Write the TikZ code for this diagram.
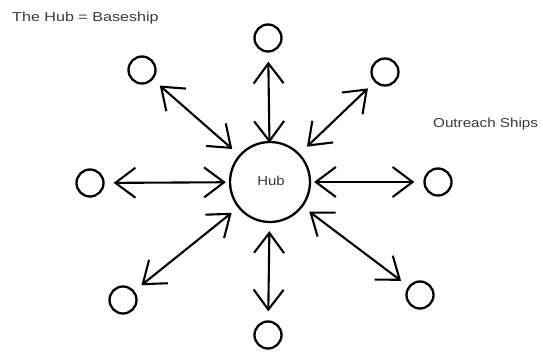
\documentclass[tikz,border=0pt]{standalone}
\usepackage{fontspec}
\setmainfont{Liberation Sans}
\usetikzlibrary{arrows.meta}
\definecolor{txt}{HTML}{3A3A3A}
\begin{document}
\begin{tikzpicture}[x=1pt,y=-1pt,
  hubnode/.style={circle,draw,line width=2.3pt,minimum size=80pt,inner sep=0pt},
  ship/.style={circle,draw,line width=2.3pt,minimum size=27pt,inner sep=0pt},
  link/.style={line width=2.1pt,{Straight Barb[length=20pt,width=30pt]}-{Straight Barb[length=20pt,width=30pt]}},
  lbl/.style={text=txt,font=\fontsize{13}{15}\selectfont,inner sep=0pt}]
\useasboundingbox (0,0) rectangle (543,356);
\node[hubnode] (hub) at (270,182) {};
\node[lbl,anchor=base] (hubtxt) at (271,185) {\scalebox{1.15}[1]{Hub}};
\node[ship] (o1) at (268,38) {};
\node[ship] (o2) at (385,72) {};
\node[ship] (o3) at (438,182) {};
\node[ship] (o4) at (420,295) {};
\node[ship] (o5) at (268,335) {};
\node[ship] (o6) at (123,300) {};
\node[ship] (o7) at (90,183) {};
\node[ship] (o8) at (142,70) {};
\draw[link,shorten <=-2pt,shorten >=9pt] (hub) -- (o1);
\draw[link,shorten <=10pt,shorten >=9pt] (hub) -- (o2);
\draw[link,shorten <=3pt,shorten >=9pt] (hub) -- (o3);
\draw[link,shorten <=8pt,shorten >=9pt] (hub) -- (o4);
\draw[link,shorten <=8pt,shorten >=9pt] (hub) -- (o5);
\draw[link,shorten <=8pt,shorten >=9pt] (hub) -- (o6);
\draw[link,shorten <=3pt,shorten >=9pt] (hub) -- (o7);
\draw[link,shorten <=9pt,shorten >=9pt] (hub) -- (o8);
\node[lbl,anchor=base west] (title) at (12,21) {\scalebox{1.24}[1]{The Hub = Baseship}};
\node[lbl,anchor=base west] (outreach) at (433,127) {\scalebox{1.17}[1]{Outreach Ships}};
\end{tikzpicture}
\end{document}
